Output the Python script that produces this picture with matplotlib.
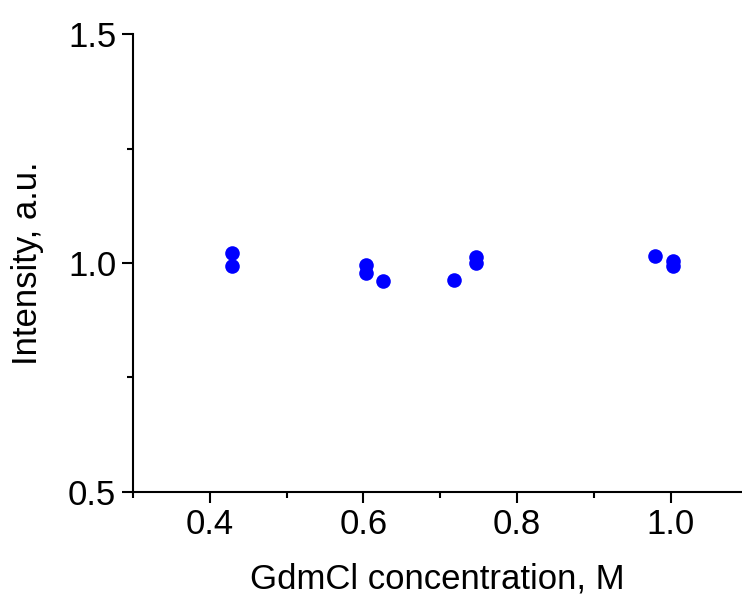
import matplotlib
matplotlib.use("Agg")
import matplotlib.pyplot as plt
from matplotlib.ticker import MultipleLocator

plt.rcParams['font.family'] = ['Liberation Sans', 'DejaVu Sans']

# GdmCl concentration (M) and normalised intensity
conc = [0.429, 0.429, 0.603, 0.603, 0.626, 0.718, 0.747, 0.747, 0.980, 1.003, 1.003]
intensity = [1.022, 0.993, 0.995, 0.979, 0.960, 0.963, 1.014, 1.000, 1.015, 1.005, 0.993]

fig = plt.figure(figsize=(7.42, 5.97), dpi=100)
ax = fig.add_axes([133 / 742, 1 - 491.7 / 597, 1 - 133 / 742, (491.7 - 34.3) / 597])

ax.plot(conc, intensity, 'o', color='#0000ff', markersize=10.5, markeredgewidth=0)

ax.set_xlim(0.3, 1.093)
ax.set_ylim(0.5, 1.5)
ax.xaxis.set_major_locator(MultipleLocator(0.2))
ax.xaxis.set_minor_locator(MultipleLocator(0.1))
ax.yaxis.set_major_locator(MultipleLocator(0.5))
ax.yaxis.set_minor_locator(MultipleLocator(0.25))
ax.xaxis.set_major_formatter(lambda v, p: f"{v:.1f}")
ax.yaxis.set_major_formatter(lambda v, p: f"{v:.1f}")

for s in ['top', 'right']:
    ax.spines[s].set_visible(False)
for s in ['left', 'bottom']:
    ax.spines[s].set_linewidth(1.5)

ax.tick_params(which='major', direction='out', length=8, width=1.5, labelsize=25, pad=4)
ax.tick_params(which='minor', direction='out', length=4, width=1.5)

ax.set_xlabel('GdmCl concentration, M', fontsize=25, labelpad=15)
ax.set_ylabel('Intensity, a.u.', fontsize=25, labelpad=17)

fig.savefig('out.png', dpi=100)
